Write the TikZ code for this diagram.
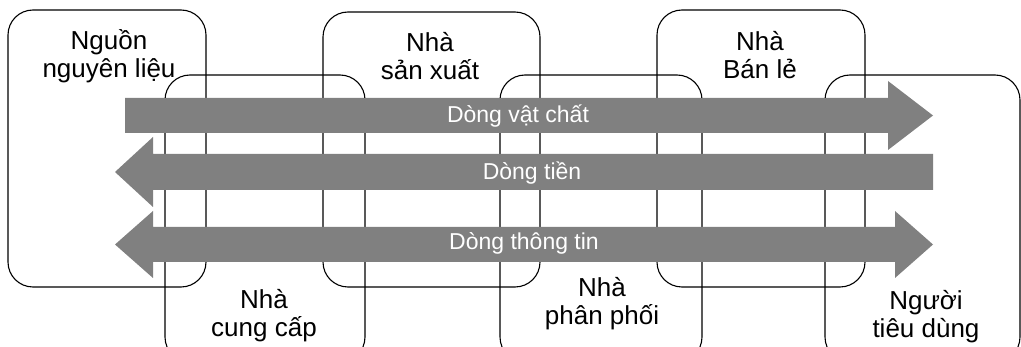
\documentclass[tikz,border=0pt]{standalone}
\usepackage{fontspec}
\setmainfont{Liberation Sans}
\usepackage{xcolor}
\usepackage{tikz}
\usetikzlibrary{positioning}
\colorlet{scline}{black}
\colorlet{scflowgray}{black!50}
\tikzset{
  scactor/.style={
    draw=scline,
    line width=1.1pt,
    rounded corners=25pt,
    inner sep=0pt
  },
  scflow/.style={fill=scflowgray},
  sclabel/.style={font=\fontsize{26}{28}\selectfont,align=center,anchor=base,inner sep=0pt},
  scflowtext/.style={font=\fontsize{23}{25}\selectfont,text=white,anchor=base,inner sep=0pt}
}

\begin{document}
\begin{tikzpicture}[x=1pt,y=-1pt]
  \useasboundingbox (0,0) rectangle (1021,347);
  \clip (0,0) rectangle (1021,347);

  % actors along the chain, upper and lower row
  \node[scactor,minimum width=198pt,minimum height=277pt] (src)  at (107,148.5) {};
  \node[scactor,minimum width=200pt,minimum height=287pt] (sup)  at (265,218.5) {};
  \node[scactor,minimum width=217pt,minimum height=275pt] (mfr)  at (431.5,149.5) {};
  \node[scactor,minimum width=202pt,minimum height=287pt] (dist) at (601,218.5) {};
  \node[scactor,minimum width=208pt,minimum height=277pt] (ret)  at (761,148.5) {};
  \node[scactor,minimum width=195pt,minimum height=287pt] (cons) at (922.5,218.5) {};

  % base sits on the last line
  \node[sclabel] (srctext)  at (109,78)  {Nguồn\\nguyên liệu};
  \node[sclabel] (mfrtext)  at (430,80)  {Nhà\\sản xuất};
  \node[sclabel] (rettext)  at (760,79)  {Nhà\\Bán lẻ};
  \node[sclabel] (suptext)  at (264,337) {Nhà\\cung cấp};
  \node[sclabel] (disttext) at (602,325) {Nhà\\phân phối};
  \node[sclabel] (constext) at (926,338) {Người\\tiêu dùng};

  % the three flows
  \fill[scflow] (125,98) -- (888,98) -- (888,81) -- (933,115.5) -- (888,150)
    -- (888,133) -- (125,133) -- cycle;
  \fill[scflow] (933,154) -- (153,154) -- (153,137) -- (115,172) -- (153,207)
    -- (153,190) -- (933,190) -- cycle;
  \fill[scflow] (153,227) -- (895,227) -- (895,211) -- (933,244.5) -- (895,278)
    -- (895,262) -- (153,262) -- (153,278) -- (115,244.5) -- (153,211) -- cycle;

  \node[scflowtext] (goods) at (518,123) {Dòng vật chất};
  \node[scflowtext] (money) at (532,180) {Dòng tiền};
  \node[scflowtext] (info)  at (524,250) {Dòng thông tin};
\end{tikzpicture}
\end{document}
